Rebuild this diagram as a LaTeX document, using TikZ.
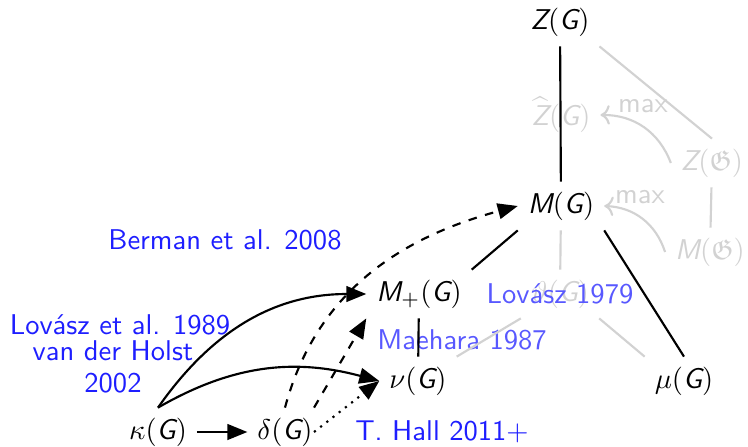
\documentclass[tikz,border=0pt]{standalone}
\usepackage{amsmath,amssymb}
\usepackage{fontspec}
\renewcommand{\familydefault}{\sfdefault}
\usetikzlibrary{arrows.meta}
\definecolor{cit}{HTML}{1E1EFF}
\definecolor{citL}{HTML}{5858FF}
\definecolor{fade}{HTML}{D2D2D2}
\newcommand{\sG}{\textit{G}}
\tikzset{
  gry/.style ={text=fade},
  ref/.style ={text=cit},
  reff/.style={text=citL},
  ln/.style  ={line width=0.75pt},
  gln/.style ={line width=0.75pt, draw=fade},
  ar/.style  ={-{Triangle[length=7pt, width=5.5pt]}, line width=0.75pt},
  gar/.style ={->, line width=0.75pt, draw=fade},
}
\begin{document}
\begin{tikzpicture}[x=0.35pt, y=-0.35pt]
\useasboundingbox (0,0) rectangle (748,447);

% invariants
\node (ZG) at (560,22) {$\textit{Z}(\sG)$};
\node[gry] (Zh) at (561,115) {$\widehat{\textit{Z}}(\sG)$};
\node[gry] (Zf) at (712,163) {$\textit{Z}(\mathfrak{G})$};
\node (MG) at (561,206) {$\textit{M}(\sG)$};
\node[gry] (Mf) at (710,252) {$\textit{M}(\mathfrak{G})$};
\node (Mp) at (419,294) {$\textit{M}_+(\sG)$};
\node[gry] (th) at (560,294) {$\vartheta(\sG)$};
\node (nu) at (418,381) {$\nu(\sG)$};
\node (mu) at (684,381) {$\mu(\sG)$};
\node (ka) at (158,432) {$\kappa(\sG)$};
\node (de) at (285,432) {$\delta(\sG)$};

% citations
\node[ref] (cBerman) at (225,240) {Berman et al. 2008};
\node[ref] (cLov89) at (120,325) {Lovász et al. 1989};
\node[ref, align=center] (cHolst) at (113,367) {van der Holst\\[-1pt]2002};
\node[reff] (cLov79) at (560,294) {Lovász 1979};
\node[reff] (cMae) at (462,340) {Maehara 1987};
\node[ref] (cHall) at (442,432) {T. Hall 2011$+$};
\node[gry] (max1) at (643,106) {max};
\node[gry] (max2) at (640,197) {max};

\draw[gln] (ZG.south east) -- (Zf.north);
\draw[gln] (Zf) -- (Mf);
\draw[gln] (MG) -- (th);
\draw[gln] (th.south west) -- (nu.north east);
\draw[gln] (th.south east) -- (mu.north west);
\draw[gar] (Zf.west) to[bend right=35] (Zh.east);
\draw[gar] (Mf.west) to[bend right=35] (MG.east);

\draw[ln] (ZG) -- (MG);
\draw[ln] (MG.south west) -- (Mp.north east);
\draw[ln] (MG.south east) -- (mu.north);
\draw[ln] (Mp) -- (nu);

\draw[ar] (ka) -- (de);
\draw[ar] (ka.north) to[out=55, in=180] (Mp.west);
\draw[ar] (ka.north) to[out=30, in=165] (nu.west);
\draw[ar, dashed] (de.north) to[out=75, in=195] (MG.west);
\draw[ar, dashed] ([xshift=-3pt]de.north east) -- (Mp.south west);
\draw[ar, dotted] ([xshift=-3pt]de.east) -- (nu.west);

\end{tikzpicture}
\end{document}
